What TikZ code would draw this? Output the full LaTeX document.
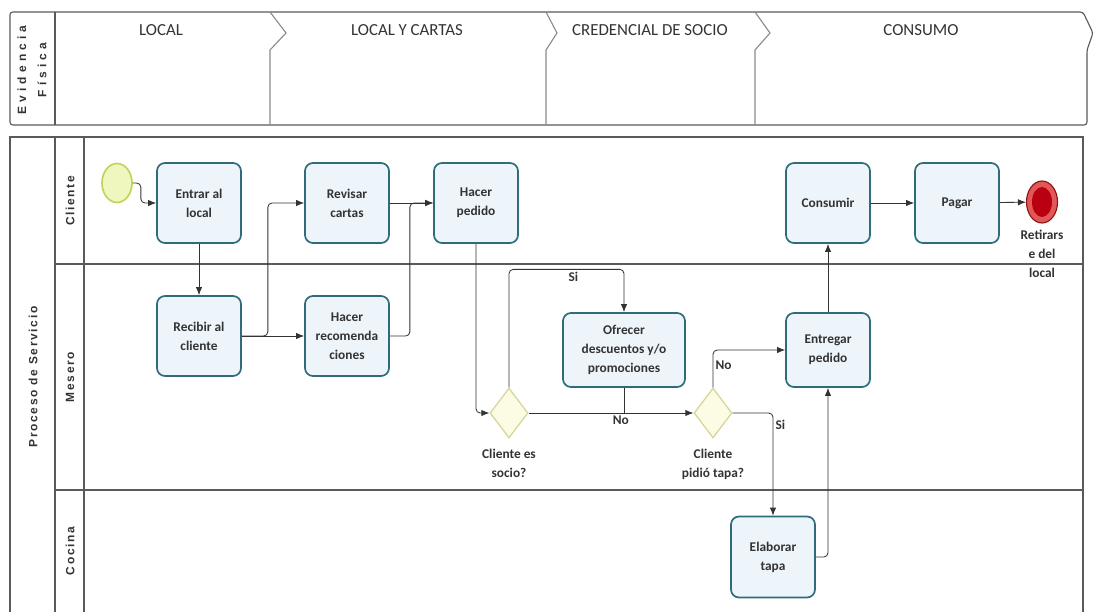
\documentclass[tikz,border=0pt]{standalone}
\usepackage{fontspec}
\setmainfont{Carlito}
\newfontfamily\spacedfont[LetterSpace=14]{Liberation Sans}
\newfontfamily\widefont[LetterSpace=35]{Liberation Sans}
\usetikzlibrary{arrows.meta, positioning, shapes.geometric}
\definecolor{taskline}{HTML}{2F6B7B}
\definecolor{taskfill}{HTML}{EEF5FA}
\definecolor{gateline}{HTML}{D6D69A}
\definecolor{gatefill}{HTML}{FCFCE4}
\definecolor{startline}{HTML}{C2D45A}
\definecolor{startfill}{HTML}{EFF6BE}
\definecolor{endline}{HTML}{8E1414}
\definecolor{endring}{HTML}{E25858}
\definecolor{endfill}{HTML}{B80010}
\definecolor{framegray}{HTML}{5A5A5A}
\definecolor{textgray}{HTML}{333333}
\tikzstyle{task} = [draw=taskline, fill=taskfill, line width=1.2pt, rectangle, rounded corners=2mm, minimum width=21mm, minimum height=20mm, align=center, font=\fontsize{9.5}{13.5}\selectfont\bfseries, text=textgray, inner sep=1pt]
\tikzstyle{gate} = [draw=gateline, fill=gatefill, line width=0.9pt, diamond, minimum width=9.5mm, minimum height=12.5mm, inner sep=0pt]
\tikzstyle{startev} = [draw=startline, fill=startfill, line width=1.2pt, ellipse, minimum width=7.5mm, minimum height=9.75mm, inner sep=0pt]
\tikzstyle{endev} = [draw=endline, fill=endring, line width=0.8pt, ellipse, minimum width=7.75mm, minimum height=10.5mm, inner sep=0pt]
\tikzstyle{endcore} = [fill=endfill, ellipse, minimum width=5mm, minimum height=7.5mm, inner sep=0pt]
\tikzstyle{note} = [align=center, font=\fontsize{9.5}{13.5}\selectfont\bfseries, text=textgray, inner sep=1.5pt]
\tikzstyle{phase} = [font=\fontsize{12}{14}\selectfont, text=textgray]
\tikzstyle{lane} = [rotate=90, align=center, font=\spacedfont\fontsize{8.5}{14}\selectfont\bfseries, text=textgray]
\tikzstyle{conn} = [line width=0.6pt, draw=black!80]
\tikzstyle{flow} = [conn, -{Latex[length=2mm, width=1.6mm]}]

\begin{document}
\begin{tikzpicture}[x=0.25mm, y=-0.25mm]
    \useasboundingbox (0,0) rectangle (1094,612);

    % Physical evidence band.
    \draw [framegray, line width=0.8pt, rounded corners=2pt] (10,125) -- (10,12) -- (1083,12) -- (1093,33) -- (1087,50) -- (1087,125) -- cycle;
    \draw [framegray, line width=0.8pt] (55,12) -- (55,125);
    \foreach \x/\t in {270/286, 546/557, 755/770} {
        \draw [framegray!70, line width=0.8pt] (\x,12) -- (\t,33) -- (\x,50) -- (\x,125);
    }
    \node (evid) [lane, font=\widefont\fontsize{8.5}{14.5}\selectfont\bfseries] at (32,70) {Evidencia\\Física};
    \foreach \x/\t [count=\i] in {161/LOCAL, 407/LOCAL Y CARTAS, 650/CREDENCIAL DE SOCIO, 921/CONSUMO} {
        \node (phase\i) [phase] at (\x,30) {\t};
    }

    % Pool and lanes.
    \draw [framegray, line width=0.8pt] (10,137) rectangle (1083,616);
    \draw [framegray, line width=0.8pt] (55,137) -- (55,612);
    \draw [framegray, line width=0.8pt] (84,137) -- (84,612);
    \draw [framegray, line width=0.8pt] (55,264) -- (1083,264);
    \draw [framegray, line width=0.8pt] (55,490) -- (1083,490);
    \node (pool) [lane] at (33,377) {Proceso de Servicio};
    \foreach \y/\t in {201/Cliente, 377/Mesero, 551/Cocina} {
        \node (lane\t) [lane] at (70,\y) {\t};
    }

    % Events and tasks.
    \node (start) [startev] at (117,183) {};
    \node (entrar) [task] at (199,203) {Entrar al\\local};
    \node (revisar) [task] at (347,203) {Revisar\\cartas};
    \node (pedido) [task] at (476,203) {Hacer\\pedido};
    \node (consumir) [task] at (828,203) {Consumir};
    \node (pagar) [task] at (957,203) {Pagar};
    \node (fin) [endev] at (1042,202) {};
    \node (fincore) [endcore] at (fin) {};
    \node (retiro) [note, below=1mm of fin] {Retirars\\e del\\local};

    \node (recibir) [task] at (199,336) {Recibir al\\cliente};
    \node (recom) [task] at (347,336) {Hacer\\recomenda\\ciones};
    \node (ofrecer) [task, minimum width=30.5mm, minimum height=18.5mm] at (624,350) {Ofrecer\\descuentos y/o\\promociones};
    \node (entregar) [task, minimum height=18.5mm] at (828,350) {Entregar\\pedido};
    \node (elaborar) [task, minimum height=20.25mm] at (773,557) {Elaborar\\tapa};

    % Gateways.
    \node (socio) [gate] at (509,413) {};
    \node (tapa) [gate] at (713,413) {};
    \node (socioq) [note, below=2mm of socio] {Cliente es\\socio?};
    \node (tapaq) [note, below=2mm of tapa] {Cliente\\pidió tapa?};

    % Flows.
    \draw [flow, rounded corners=3pt] (start.east) -- ++(8,0) |- (entrar.west);
    \draw [flow] (entrar) -- (recibir);
    \draw [flow] (recibir) -- (recom);
    \draw [flow, rounded corners=3pt] (recibir.east) -- ++(26,0) |- (revisar.west);
    \draw [flow] (revisar) -- (pedido);
    \draw [flow, rounded corners=3pt] (recom.east) -- ++(20,0) |- (pedido.west);
    \draw [flow, rounded corners=3pt] (pedido.south) |- (socio.west);
    \draw [flow, rounded corners=3pt] (socio.north) -- ++(0,-118) -| node [note, pos=0.28, below] {Si} (ofrecer.north);
    \draw [flow] (socio.east) -- node [note, pos=0.56, below] {No} (tapa.west);
    \draw [conn] (ofrecer.south) -- (ofrecer.south |- socio.east);
    \draw [flow, rounded corners=3pt] (tapa.north) |- node [note, pos=0.3, right] {No} (entregar.west);
    \draw [flow, rounded corners=3pt] (tapa.east) -| node [note, pos=0.56, right] {Si} (elaborar.north);
    \draw [flow, rounded corners=3pt] (elaborar.east) -| (entregar.south);
    \draw [flow] (entregar) -- (consumir);
    \draw [flow] (consumir) -- (pagar);
    \draw [flow] (pagar) -- (fin);
\end{tikzpicture}
\end{document}
